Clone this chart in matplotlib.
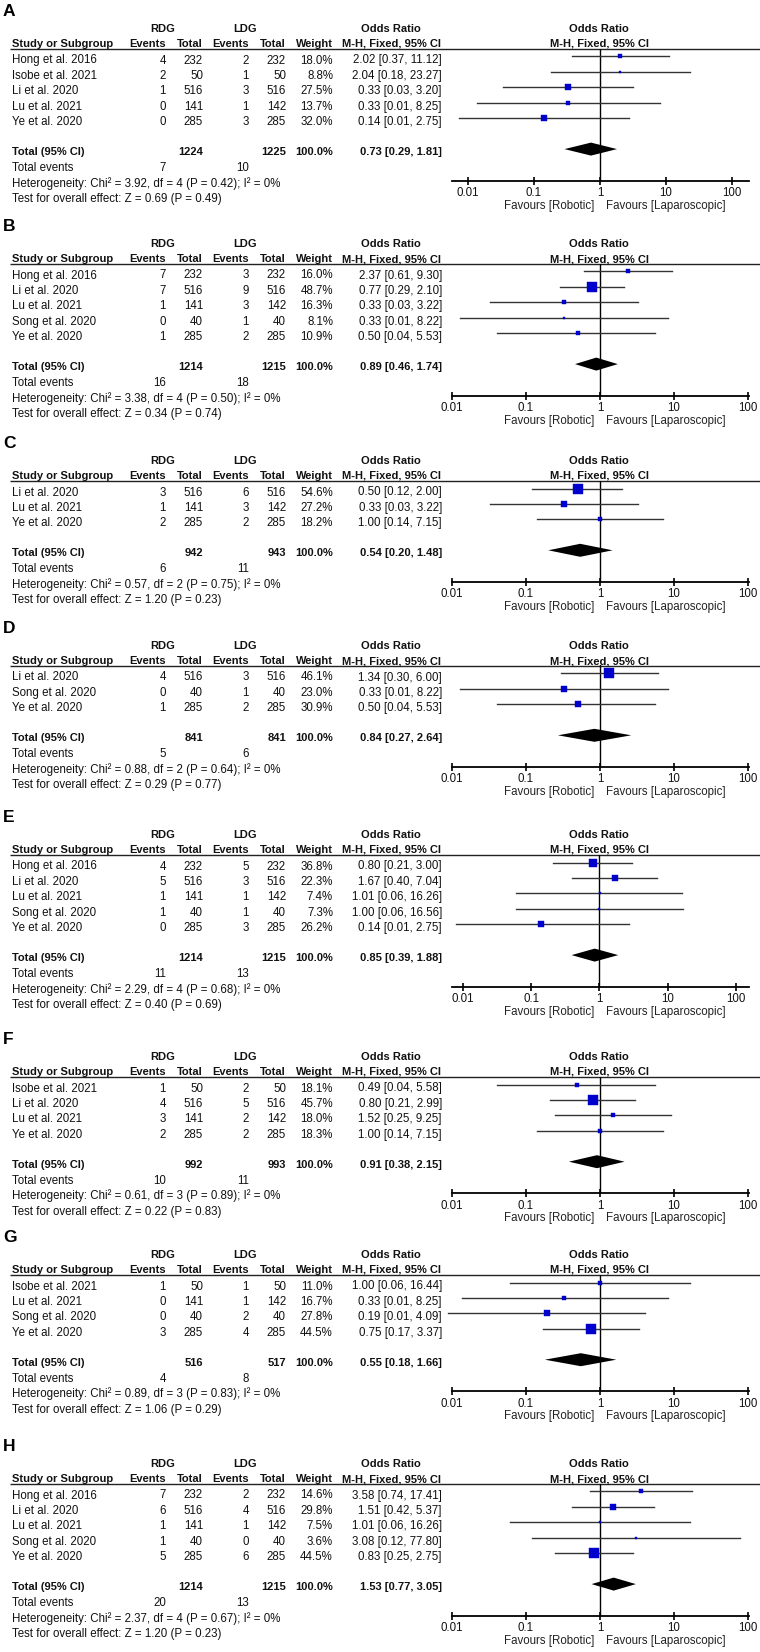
import matplotlib
matplotlib.use("Agg")
import matplotlib.pyplot as plt
from matplotlib.ticker import NullLocator

plt.rcParams['font.family'] = ['Liberation Sans', 'DejaVu Sans']

W, H = 760, 1652

# ------------------------------------------------------------------ data
A_STUDY = ["Hong et al. 2016", "Isobe et al. 2021", "Li et al. 2020", "Lu et al. 2021", "Ye et al. 2020"]
A_RDG_EV = [4, 2, 1, 0, 0]
A_RDG_N = [232, 50, 516, 141, 285]
A_LDG_EV = [2, 1, 3, 1, 3]
A_LDG_N = [232, 50, 516, 142, 285]
A_WEIGHT = [18.0, 8.8, 27.5, 13.7, 32.0]
A_OR = [2.02, 2.04, 0.33, 0.33, 0.14]
A_LO = [0.37, 0.18, 0.034, 0.0137, 0.0073]
A_HI = [11.12, 23.27, 3.20, 8.25, 2.75]
A_POOLED = [0.73, 0.29, 1.81]
A_TOTALS = [1224, 1225]
A_EVENTS = [7, 10]
A_HET = [3.92, 4, 0.42, 0]
A_Z = [0.69, 0.49]

B_STUDY = ["Hong et al. 2016", "Li et al. 2020", "Lu et al. 2021", "Song et al. 2020", "Ye et al. 2020"]
B_RDG_EV = [7, 7, 1, 0, 1]
B_RDG_N = [232, 516, 141, 40, 285]
B_LDG_EV = [3, 9, 3, 1, 2]
B_LDG_N = [232, 516, 142, 40, 285]
B_WEIGHT = [16.0, 48.7, 16.3, 8.1, 10.9]
B_OR = [2.37, 0.77, 0.33, 0.33, 0.50]
B_LO = [0.61, 0.29, 0.033, 0.0128, 0.04]
B_HI = [9.30, 2.10, 3.22, 8.22, 5.53]
B_POOLED = [0.89, 0.46, 1.74]
B_TOTALS = [1214, 1215]
B_EVENTS = [16, 18]
B_HET = [3.38, 4, 0.50, 0]
B_Z = [0.34, 0.74]

C_STUDY = ["Li et al. 2020", "Lu et al. 2021", "Ye et al. 2020"]
C_RDG_EV = [3, 1, 2]
C_RDG_N = [516, 141, 285]
C_LDG_EV = [6, 3, 2]
C_LDG_N = [516, 142, 285]
C_WEIGHT = [54.6, 27.2, 18.2]
C_OR = [0.50, 0.33, 1.00]
C_LO = [0.12, 0.033, 0.14]
C_HI = [2.00, 3.22, 7.15]
C_POOLED = [0.54, 0.20, 1.48]
C_TOTALS = [942, 943]
C_EVENTS = [6, 11]
C_HET = [0.57, 2, 0.75, 0]
C_Z = [1.20, 0.23]

D_STUDY = ["Li et al. 2020", "Song et al. 2020", "Ye et al. 2020"]
D_RDG_EV = [4, 0, 1]
D_RDG_N = [516, 40, 285]
D_LDG_EV = [3, 1, 2]
D_LDG_N = [516, 40, 285]
D_WEIGHT = [46.1, 23.0, 30.9]
D_OR = [1.34, 0.33, 0.50]
D_LO = [0.30, 0.0128, 0.04]
D_HI = [6.00, 8.22, 5.53]
D_POOLED = [0.84, 0.27, 2.64]
D_TOTALS = [841, 841]
D_EVENTS = [5, 6]
D_HET = [0.88, 2, 0.64, 0]
D_Z = [0.29, 0.77]

E_STUDY = ["Hong et al. 2016", "Li et al. 2020", "Lu et al. 2021", "Song et al. 2020", "Ye et al. 2020"]
E_RDG_EV = [4, 5, 1, 1, 0]
E_RDG_N = [232, 516, 141, 40, 285]
E_LDG_EV = [5, 3, 1, 1, 3]
E_LDG_N = [232, 516, 142, 40, 285]
E_WEIGHT = [36.8, 22.3, 7.4, 7.3, 26.2]
E_OR = [0.80, 1.67, 1.01, 1.00, 0.14]
E_LO = [0.21, 0.40, 0.06, 0.06, 0.0078]
E_HI = [3.00, 7.04, 16.26, 16.56, 2.75]
E_POOLED = [0.85, 0.39, 1.88]
E_TOTALS = [1214, 1215]
E_EVENTS = [11, 13]
E_HET = [2.29, 4, 0.68, 0]
E_Z = [0.40, 0.69]

F_STUDY = ["Isobe et al. 2021", "Li et al. 2020", "Lu et al. 2021", "Ye et al. 2020"]
F_RDG_EV = [1, 4, 3, 2]
F_RDG_N = [50, 516, 141, 285]
F_LDG_EV = [2, 5, 2, 2]
F_LDG_N = [50, 516, 142, 285]
F_WEIGHT = [18.1, 45.7, 18.0, 18.3]
F_OR = [0.49, 0.80, 1.52, 1.00]
F_LO = [0.04, 0.21, 0.25, 0.14]
F_HI = [5.58, 2.99, 9.25, 7.15]
F_POOLED = [0.91, 0.38, 2.15]
F_TOTALS = [992, 993]
F_EVENTS = [10, 11]
F_HET = [0.61, 3, 0.89, 0]
F_Z = [0.22, 0.83]

G_STUDY = ["Isobe et al. 2021", "Lu et al. 2021", "Song et al. 2020", "Ye et al. 2020"]
G_RDG_EV = [1, 0, 0, 3]
G_RDG_N = [50, 141, 40, 285]
G_LDG_EV = [1, 1, 2, 4]
G_LDG_N = [50, 142, 40, 285]
G_WEIGHT = [11.0, 16.7, 27.8, 44.5]
G_OR = [1.00, 0.33, 0.19, 0.75]
G_LO = [0.06, 0.0137, 0.0088, 0.17]
G_HI = [16.44, 8.25, 4.09, 3.37]
G_POOLED = [0.55, 0.18, 1.66]
G_TOTALS = [516, 517]
G_EVENTS = [4, 8]
G_HET = [0.89, 3, 0.83, 0]
G_Z = [1.06, 0.29]

H_STUDY = ["Hong et al. 2016", "Li et al. 2020", "Lu et al. 2021", "Song et al. 2020", "Ye et al. 2020"]
H_RDG_EV = [7, 6, 1, 1, 5]
H_RDG_N = [232, 516, 141, 40, 285]
H_LDG_EV = [2, 4, 1, 0, 6]
H_LDG_N = [232, 516, 142, 40, 285]
H_WEIGHT = [14.6, 29.8, 7.5, 3.6, 44.5]
H_OR = [3.58, 1.51, 1.01, 3.08, 0.83]
H_LO = [0.74, 0.42, 0.06, 0.12, 0.25]
H_HI = [17.41, 5.37, 16.26, 77.80, 2.75]
H_POOLED = [1.53, 0.77, 3.05]
H_TOTALS = [1214, 1215]
H_EVENTS = [20, 13]
H_HET = [2.37, 4, 0.67, 0]
H_Z = [1.20, 0.23]

PANEL_LABELS = ["A", "B", "C", "D", "E", "F", "G", "H"]
G_ = globals()

# ------------------------------------------------------------------ layout
# y (pixels) of the "RDG / LDG" header row centre per panel
BASES = {"A": 28, "B": 243, "C": 460, "D": 645, "E": 834, "F": 1056, "G": 1254, "H": 1463}
# pixel x of the 0.01 and 100 ticks on each forest axis
TICKPX = {"A": (468, 732), "E": (463, 736)}
DEFAULT_TICKPX = (452, 748)
AX_L, AX_R = 452, 749

FS = 8.3
FSB = 8.0
TXT = "#111111"
SQ = "#0000cc"

fig = plt.figure(figsize=(W / 100, H / 100), dpi=100)
axm = fig.add_axes([0, 0, 1, 1])
axm.set_xlim(0, W)
axm.set_ylim(H, 0)
axm.axis("off")

X_STUDY = 12
X_EV1, X_N1, X_EV2, X_N2, X_W, X_OR = 166, 203, 249, 286, 333, 442
X_OR_HDR = 391
X_FOREST = 599


def t(x, y, s, ha="left", bold=False, size=None, color=TXT):
    axm.text(x, y, s, ha=ha, va="baseline", fontsize=size or (FSB if bold else FS),
             fontweight="bold" if bold else "normal", color=color)


def f2(v):
    return f"{v:.2f}"


ROW0, ROWSTEP = 31.5, 15.4
BL = 4  # baseline offset from visual centre

for lab in PANEL_LABELS:
    study = G_[lab + "_STUDY"]
    rev, rn = G_[lab + "_RDG_EV"], G_[lab + "_RDG_N"]
    lev, ln = G_[lab + "_LDG_EV"], G_[lab + "_LDG_N"]
    wts = G_[lab + "_WEIGHT"]
    ors, los, his = G_[lab + "_OR"], G_[lab + "_LO"], G_[lab + "_HI"]
    pooled = G_[lab + "_POOLED"]
    totals = G_[lab + "_TOTALS"]
    events = G_[lab + "_EVENTS"]
    het = G_[lab + "_HET"]
    z = G_[lab + "_Z"]

    base = BASES[lab]
    n = len(study)
    y_h1 = base
    y_h2 = base + 15
    y_line = base + 20.5
    rows = [base + ROW0 + ROWSTEP * i for i in range(n)]
    y_tot = rows[-1] + 30
    y_te = y_tot + 16
    y_het = y_te + 15.7
    y_test = y_het + 15.4
    y_axis = y_het - 2

    # panel letter
    axm.text(3, base - 12, lab, ha="left", va="baseline", fontsize=12.5,
             fontweight="bold", color="black")

    # header rows
    t(163, y_h1 + BL, "RDG", ha="center", bold=True)
    t(245, y_h1 + BL, "LDG", ha="center", bold=True)
    t(X_OR_HDR, y_h1 + BL, "Odds Ratio", ha="center", bold=True)
    t(X_FOREST, y_h1 + BL, "Odds Ratio", ha="center", bold=True)
    t(X_STUDY, y_h2 + BL, "Study or Subgroup", bold=True)
    t(X_EV1, y_h2 + BL, "Events", ha="right", bold=True)
    t(X_N1, y_h2 + BL, "Total", ha="right", bold=True)
    t(X_EV2, y_h2 + BL, "Events", ha="right", bold=True)
    t(X_N2, y_h2 + BL, "Total", ha="right", bold=True)
    t(X_W, y_h2 + BL, "Weight", ha="right", bold=True)
    t(X_OR_HDR, y_h2 + BL, "M-H, Fixed, 95% CI", ha="center", bold=True)
    t(X_FOREST, y_h2 + BL, "M-H, Fixed, 95% CI", ha="center", bold=True)
    axm.plot([10, W], [y_line, y_line], color="#222222", lw=1.0, solid_capstyle="butt")

    # study rows
    for i in range(n):
        y = rows[i] + BL
        t(X_STUDY, y, study[i])
        t(X_EV1, y, str(rev[i]), ha="right")
        t(X_N1, y, str(rn[i]), ha="right")
        t(X_EV2, y, str(lev[i]), ha="right")
        t(X_N2, y, str(ln[i]), ha="right")
        t(X_W, y, f"{wts[i]:.1f}%", ha="right")
        t(X_OR, y, f"{f2(ors[i])} [{f2(los[i])}, {f2(his[i])}]", ha="right")

    # totals
    y = y_tot + BL
    t(X_STUDY, y, "Total (95% CI)", bold=True)
    t(X_N1, y, str(totals[0]), ha="right", bold=True)
    t(X_N2, y, str(totals[1]), ha="right", bold=True)
    t(X_W, y, "100.0%", ha="right", bold=True)
    t(X_OR, y, f"{f2(pooled[0])} [{f2(pooled[1])}, {f2(pooled[2])}]", ha="right", bold=True)
    y = y_te + BL
    t(X_STUDY, y, "Total events")
    t(X_EV1, y, str(events[0]), ha="right")
    t(X_EV2, y, str(events[1]), ha="right")
    t(X_STUDY, y_het + BL,
      f"Heterogeneity: Chi\u00b2 = {het[0]:.2f}, df = {het[1]} (P = {het[2]:.2f}); I\u00b2 = {het[3]}%")
    t(X_STUDY, y_test + BL, f"Test for overall effect: Z = {z[0]:.2f} (P = {z[1]:.2f})")

    # favours labels
    t(594, y_axis + 24 + BL, "Favours [Robotic]", ha="right", color="#222222")
    t(606, y_axis + 24 + BL, "Favours [Laparoscopic]", ha="left", color="#222222")

    # forest axes
    t001, t100 = TICKPX.get(lab, DEFAULT_TICKPX)
    ppd = (t100 - t001) / 4.0
    xlo = 10 ** (-2 - (t001 - AX_L) / ppd)
    xhi = 10 ** (2 + (AX_R - t100) / ppd)
    axf = fig.add_axes([AX_L / W, 1 - y_axis / H, (AX_R - AX_L) / W, (y_axis - y_line) / H])
    axf.set_xscale("log")
    axf.set_xlim(xlo, xhi)
    axf.set_ylim(y_axis, y_line)
    axf.patch.set_alpha(0)
    for s in ("top", "left", "right"):
        axf.spines[s].set_visible(False)
    axf.spines["bottom"].set_linewidth(1.3)
    axf.set_xticks([0.01, 0.1, 1, 10, 100])
    axf.set_xticklabels(["0.01", "0.1", "1", "10", "100"])
    axf.xaxis.set_minor_locator(NullLocator())
    axf.tick_params(axis="x", direction="inout", length=6, width=1.2, pad=1.5,
                    labelsize=FS, labelcolor=TXT)
    axf.set_yticks([])
    axf.axvline(1, color="black", lw=1.0)

    for i in range(n):
        ym = rows[i] - 3
        axf.plot([los[i], his[i]], [ym, ym], color="#333333", lw=1.0, clip_on=False)
        side = 1.5 + 0.17 * wts[i]
        axf.plot([ors[i]], [ym], marker="s", ms=side * 0.72, color=SQ, mec=SQ,
                 mew=0.3, clip_on=False, zorder=3)
    yd = y_tot - 2
    hd = 6.5
    axf.fill([pooled[1], pooled[0], pooled[2], pooled[0]],
             [yd, yd - hd, yd, yd + hd], color="black", lw=0, zorder=3)

fig.savefig("out.png", dpi=100, facecolor="white")
